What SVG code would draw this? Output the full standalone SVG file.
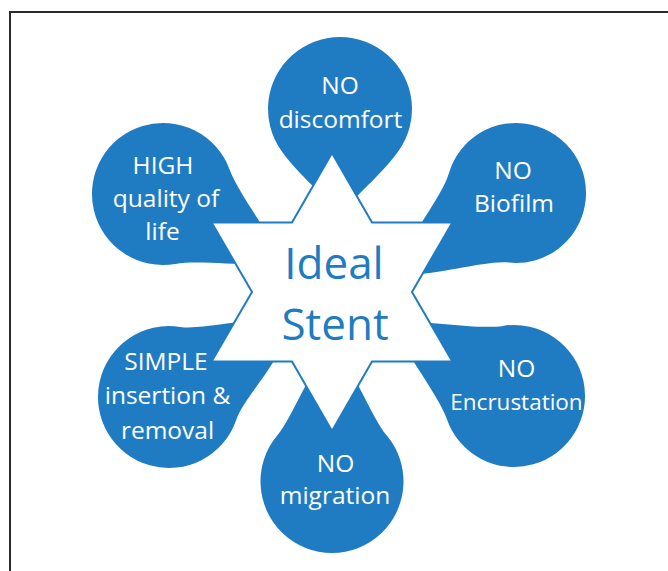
<svg xmlns="http://www.w3.org/2000/svg" width="668" height="571" viewBox="0 0 668 571">
<style>
.blob{fill:#1f7cc3}
.lbl{font-family:"Open Sans","Liberation Sans",sans-serif;font-size:24.5px;fill:#fff;text-anchor:middle}
.ctr{font-family:"Open Sans","Liberation Sans",sans-serif;font-size:44px;fill:#1f7cc3;text-anchor:middle}
.star{fill:#fff;stroke:#1f7cc3;stroke-width:2;stroke-linejoin:miter}
</style>
<rect x="0" y="0" width="668" height="571" fill="#fff"/>
<path d="M10,571 V12 H668" fill="none" stroke="#2a2a2a" stroke-width="2"/>
<g id="connectors"/>
<g id="node-discomfort">
<path class="blob" transform="translate(340,109) rotate(180)" d="M-59,-41.3 C-36,-74.1 -6,-90 0,-115 C6,-90 36,-74.1 59,-41.3 A72,72 0 1 1 -59,-41.3Z"/>
<text class="lbl" x="340" y="93.5">NO</text>
<text class="lbl" x="340.5" y="128">discomfort</text>
</g>
<g id="node-quality">
<path class="blob" transform="translate(163,194) rotate(120)" d="M-54.4,-45.6 C-38.3,-64.8 -18,-115 0,-140 C18,-115 38.3,-64.8 54.4,-45.6 A71,71 0 1 1 -54.4,-45.6Z"/>
<text class="lbl" x="163" y="173.5">HIGH</text>
<text class="lbl" x="166" y="206.5">quality of</text>
<text class="lbl" x="162.5" y="240">life</text>
</g>
<g id="node-biofilm">
<path class="blob" transform="translate(516,193) rotate(-124)" d="M-53.6,-45 C-37.5,-64.2 -22,-120 0,-145 C22,-120 37.5,-64.2 53.6,-45 A70,70 0 1 1 -53.6,-45Z"/>
<text class="lbl" x="513" y="178.5">NO</text>
<text class="lbl" x="514" y="211.5">Biofilm</text>
</g>
<g id="node-encrustation">
<path class="blob" transform="translate(514,396) rotate(-59)" d="M-54.4,-45.6 C-38.3,-64.8 -17,-120 0,-145 C17,-120 38.3,-64.8 54.4,-45.6 A71,71 0 1 1 -54.4,-45.6Z"/>
<text class="lbl" x="516.5" y="376.5">NO</text>
<text class="lbl" x="516.5" y="410" style="font-size:22.5px">Encrustation</text>
</g>
<g id="node-migration">
<path class="blob" transform="translate(332,481.5)" d="M-54.8,-46 C-38.7,-65.1 -24,-110 0,-135 C24,-110 38.7,-65.1 54.8,-46 A71.5,71.5 0 1 1 -54.8,-46Z"/>
<text class="lbl" x="335.5" y="471.5">NO</text>
<text class="lbl" x="335" y="503.5">migration</text>
</g>
<g id="node-simple">
<path class="blob" transform="translate(169,397) rotate(59)" d="M-54.4,-45.6 C-38.3,-64.8 -28,-115 0,-140 C28,-115 38.3,-64.8 54.4,-45.6 A71,71 0 1 1 -54.4,-45.6Z"/>
<text class="lbl" x="166" y="370">SIMPLE</text>
<text class="lbl" x="167.5" y="403.5">insertion &amp;</text>
<text class="lbl" x="167.5" y="438.5">removal</text>
</g>
<g id="node-ideal-stent">
<path class="star" d="M332,153 L372,222.5 L452.4,222.5 L412,292 L452.4,361.5 L372,361.5 L332,431 L292,361.5 L211.6,361.5 L252,292 L211.6,222.5 L292,222.5 Z"/>
<text class="ctr" x="334" y="278.5">Ideal</text>
<text class="ctr" x="335" y="340">Stent</text>
</g>
</svg>
